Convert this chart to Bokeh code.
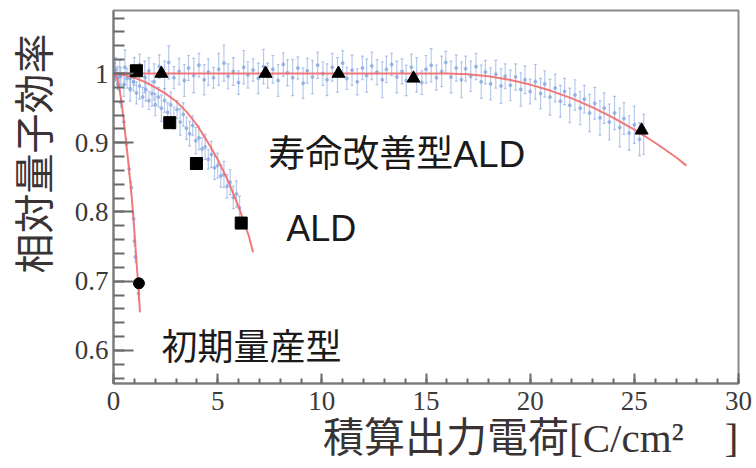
import numpy as np
from bokeh.plotting import figure
from bokeh.models import Range1d, FixedTicker, CustomJSTickFormatter, Label, Title
from bokeh.embed import file_html
from bokeh.resources import INLINE

# --- measured data: relative quantum efficiency vs. integrated output charge ---
# 初期量産型 (early production type)
x1 = [0.05, 0.2, 0.35, 0.5, 0.62, 0.75, 0.86, 0.97, 1.0, 1.05, 1.2]
y1 = [0.998, 0.985, 0.958, 0.93, 0.898, 0.862, 0.835, 0.79, 0.758, 0.735, 0.682]
e1 = [0.006, 0.008, 0.007, 0.009, 0.008, 0.007, 0.009, 0.008, 0.007, 0.008, 0.009]

# ALD
x2 = [0.05, 0.2, 0.35, 0.5, 0.65, 0.8, 0.95, 1.1, 1.25, 1.4, 1.55, 1.7, 1.85, 2.0,
      2.15, 2.3, 2.45, 2.6, 2.75, 2.9, 3.05, 3.2, 3.35, 3.5, 3.65, 3.8, 3.95, 4.1,
      4.25, 4.4, 4.55, 4.7, 4.85, 5.0, 5.15, 5.3, 5.45, 5.6, 5.75, 5.9, 6.05]
y2 = [1.003, 0.994, 0.996, 0.984, 0.993, 0.978, 0.988, 0.972, 0.982, 0.966, 0.977,
      0.961, 0.971, 0.955, 0.966, 0.950, 0.961, 0.944, 0.955, 0.936, 0.948, 0.930,
      0.941, 0.921, 0.913, 0.925, 0.903, 0.907, 0.891, 0.894, 0.876, 0.883, 0.864,
      0.867, 0.852, 0.854, 0.837, 0.843, 0.821, 0.826, 0.806]
e2 = [0.012, 0.016, 0.013, 0.017, 0.014, 0.018, 0.013, 0.016, 0.019, 0.014,
      0.017, 0.013, 0.018, 0.016, 0.014, 0.019, 0.017, 0.014, 0.018, 0.016,
      0.013, 0.019, 0.017, 0.016, 0.018, 0.014, 0.019, 0.017, 0.016, 0.018,
      0.014, 0.019, 0.017, 0.018, 0.016, 0.019, 0.017, 0.018, 0.016, 0.019, 0.017]

# 寿命改善型ALD (extended-lifetime ALD)
x3 = [0.1, 0.3, 0.55, 0.8, 1.0, 1.25, 1.5, 1.7, 1.95, 2.2, 2.45, 2.65, 2.9, 3.15,
      3.4, 3.6, 3.85, 4.1, 4.35, 4.55, 4.8, 5.05, 5.3, 5.5, 5.75, 6.0, 6.25, 6.45,
      6.7, 6.95, 7.2, 7.4, 7.65, 7.9, 8.15, 8.35, 8.6, 8.85, 9.1, 9.3, 9.55, 9.8,
      10.05, 10.25, 10.5, 10.75, 11.0, 11.2, 11.45, 11.7, 11.95, 12.15, 12.4, 12.65,
      12.9, 13.1, 13.35, 13.6, 13.85, 14.05, 14.3, 14.55, 14.8, 15.0, 15.25, 15.5,
      15.75, 15.95, 16.2, 16.45, 16.7, 16.9, 17.15, 17.4, 17.65, 17.85, 18.1, 18.35,
      18.6, 18.8, 19.05, 19.3, 19.55, 19.75, 20.0, 20.25, 20.5, 20.7, 20.95, 21.2,
      21.45, 21.65, 21.9, 22.15, 22.4, 22.6, 22.85, 23.1, 23.35, 23.55, 23.8, 24.05,
      24.3, 24.5, 24.75, 25.0, 25.25, 25.45]
y3 = [1.006, 0.997, 1.009, 0.993, 1.003, 1.013, 0.995, 1.004, 0.988, 1.010,
      0.998, 1.016, 0.994, 1.003, 0.990, 1.008, 0.997, 1.012, 0.991, 1.002,
      0.994, 1.006, 1.015, 0.996, 1.003, 0.987, 1.009, 0.998, 1.005, 0.993,
      1.010, 0.997, 1.006, 0.990, 1.013, 1.001, 0.994, 1.008, 0.986, 1.004,
      0.995, 1.012, 1.000, 0.991, 1.009, 0.998, 1.015, 0.993, 1.005, 0.988,
      1.008, 0.997, 1.011, 1.002, 0.991, 1.006, 1.013, 0.995, 1.003, 0.990,
      1.009, 0.998, 0.987, 1.006, 1.012, 0.994, 1.003, 1.016, 0.995, 1.008,
      0.991, 1.007, 0.996, 1.010, 0.988, 1.002, 0.985, 0.999, 0.982, 0.996,
      0.983, 0.995, 0.977, 0.991, 0.974, 0.988, 0.971, 0.985, 0.966, 0.979,
      0.960, 0.974, 0.954, 0.969, 0.950, 0.963, 0.943, 0.957, 0.936, 0.950,
      0.930, 0.943, 0.922, 0.935, 0.914, 0.926, 0.905, 0.912]
e3 = [0.017, 0.022, 0.025, 0.018, 0.020, 0.015, 0.023, 0.019, 0.026, 0.017,
      0.020, 0.024, 0.016, 0.019, 0.023, 0.018, 0.025, 0.017, 0.022, 0.019,
      0.015, 0.023, 0.026, 0.018, 0.020, 0.017, 0.024, 0.019, 0.016, 0.022,
      0.025, 0.018, 0.020, 0.023, 0.017, 0.019, 0.026, 0.016, 0.022, 0.018,
      0.024, 0.019, 0.017, 0.023, 0.020, 0.025, 0.018, 0.016, 0.022, 0.019,
      0.017, 0.024, 0.020, 0.018, 0.026, 0.019, 0.016, 0.023, 0.018, 0.022,
      0.019, 0.025, 0.017, 0.020, 0.024, 0.018, 0.022, 0.016, 0.023, 0.019,
      0.026, 0.018, 0.022, 0.019, 0.024, 0.017, 0.023, 0.020, 0.025, 0.018,
      0.022, 0.019, 0.024, 0.020, 0.018, 0.025, 0.022, 0.019, 0.026, 0.020,
      0.023, 0.019, 0.025, 0.022, 0.024, 0.020, 0.027, 0.023, 0.025, 0.022,
      0.026, 0.024, 0.028, 0.023, 0.025, 0.027, 0.024, 0.029]

# fitted curves
f1x = [0, 0.1, 0.2, 0.3, 0.4, 0.53, 0.7, 0.86, 1.0, 1.1, 1.2, 1.27]
f1y = [1.0, 0.998, 0.99, 0.975, 0.955, 0.922, 0.875, 0.827, 0.773, 0.73, 0.69, 0.655]
f2x = [0, 0.5, 1, 1.5, 2, 2.5, 3, 3.5, 4, 4.5, 5, 5.5, 6, 6.5, 6.7]
f2y = [1.0, 0.998, 0.994, 0.988, 0.98, 0.971, 0.96, 0.945, 0.926, 0.902, 0.876,
       0.845, 0.808, 0.765, 0.742]
f3x = [0, 4, 8, 12, 16, 17, 18, 19, 20, 21, 22, 23, 24, 25, 26, 27, 27.5]
f3y = [1.0, 1.0, 1.0, 1.0, 1.0, 0.999, 0.996, 0.991, 0.984, 0.975, 0.964, 0.951,
       0.936, 0.919, 0.9, 0.879, 0.867]

# reference measurements (black markers)
circ_x, circ_y = [1.22], [0.697]
sq_x = [1.1, 2.7, 3.98, 6.13]
sq_y = [1.004, 0.929, 0.870, 0.784]
tri_x = [2.3, 7.3, 10.8, 14.4, 25.35]
tri_y = [1.0, 1.0, 1.0, 0.993, 0.918]

# axis ticks
x_major = [0, 5, 10, 15, 20, 25, 30]
x_minor = list(range(0, 31))
y_major = [0.6, 0.7, 0.8, 0.9, 1.0]
y_minor = [0.56, 0.58, 0.60, 0.62, 0.64, 0.66, 0.68, 0.70, 0.72, 0.74, 0.76, 0.78,
           0.80, 0.82, 0.84, 0.86, 0.88, 0.90, 0.92, 0.94, 0.96, 0.98, 1.00, 1.02,
           1.04, 1.06, 1.08]

p = figure(width=756, height=468, x_range=Range1d(0, 30), y_range=Range1d(0.5523, 1.091),
           output_backend="svg", toolbar_location=None,
           min_border_left=112, min_border_right=18, min_border_top=10, min_border_bottom=85)
p.background_fill_color = "white"
p.border_fill_color = "white"
p.xgrid.visible = False
p.ygrid.visible = False
p.outline_line_color = "#8a8a8a"
p.outline_line_width = 2

for ax in (p.xaxis[0], p.yaxis[0]):
    ax.axis_line_color = "#7a7a7a"
    ax.axis_line_width = 2
    ax.major_tick_line_color = "#6a6a6a"
    ax.minor_tick_line_color = "#6a6a6a"
    ax.major_tick_line_width = 2
    ax.minor_tick_line_width = 2
    ax.major_tick_out = 0
    ax.minor_tick_out = 0
    ax.major_label_text_font = "Liberation Serif"
    ax.major_label_text_font_size = "27px"
    ax.major_label_text_color = "#3a3a3a"

p.xaxis.ticker = FixedTicker(ticks=x_major, minor_ticks=x_minor)
p.yaxis.ticker = FixedTicker(ticks=y_major, minor_ticks=y_minor)
p.yaxis.formatter = CustomJSTickFormatter(code="return (Math.round(tick*10)/10).toString();")
p.xaxis.major_tick_in = 10
p.xaxis.minor_tick_in = 5
p.yaxis.major_tick_in = 20
p.yaxis.minor_tick_in = 11
p.xaxis.major_label_standoff = 8
p.yaxis.major_label_standoff = 5

blue = "#7b9fdc"

def errorbars(xs, ys, es, cap=0.07):
    xs, ys, es = np.array(xs), np.array(ys), np.array(es)
    p.segment(xs, ys - es, xs, ys + es, line_color=blue, line_width=1.2, line_alpha=0.55)
    p.segment(xs - cap, ys + es, xs + cap, ys + es, line_color=blue, line_width=1.2, line_alpha=0.55)
    p.segment(xs - cap, ys - es, xs + cap, ys - es, line_color=blue, line_width=1.2, line_alpha=0.55)
    p.scatter(xs, ys, size=3, color=blue, alpha=0.6)

errorbars(x3, y3, e3)
errorbars(x2, y2, e2)
errorbars(x1, y1, e1, cap=0.04)

red = "#f26a6a"
for fx, fy in ((f1x, f1y), (f2x, f2y), (f3x, f3y)):
    p.line(fx, fy, line_color=red, line_width=2, line_alpha=0.9)

p.scatter(circ_x, circ_y, marker="circle", size=11, color="black")
p.scatter(sq_x, sq_y, marker="square", size=12, color="black")
p.scatter(tri_x, tri_y, marker="triangle", size=13, color="black")

mixed_sans = "'Liberation Sans', 'Noto Sans CJK JP'"
p.add_layout(Label(x=7.43, y=0.883, text="寿命改善型ALD", text_font=mixed_sans,
                   text_font_size="37px", text_color="#1a1a1a", text_baseline="middle"))
p.add_layout(Label(x=8.29, y=0.776, text="ALD", text_font=mixed_sans,
                   text_font_size="36px", text_color="#1a1a1a", text_baseline="middle"))
p.add_layout(Label(x=2.30, y=0.604, text="初期量産型", text_font=mixed_sans,
                   text_font_size="36px", text_color="#1a1a1a", text_baseline="middle"))

# axis titles, placed in the side panels
mixed_serif = "'Liberation Serif', 'Noto Sans CJK JP'"
p.add_layout(Title(text="相対量子効率", text_font=mixed_sans, text_font_size="40px",
                   text_font_style="normal", text_color="#3a3333", align="right",
                   vertical_align="top", offset=23, standoff=25), "left")
p.add_layout(Title(text="積算出力電荷[C/cm²\u3000]", text_font=mixed_serif, text_font_size="41px",
                   text_font_style="normal", text_color="#3a3333", align="right",
                   vertical_align="top", offset=0, standoff=4), "below")

open("out.html", "w").write(file_html(p, INLINE))
